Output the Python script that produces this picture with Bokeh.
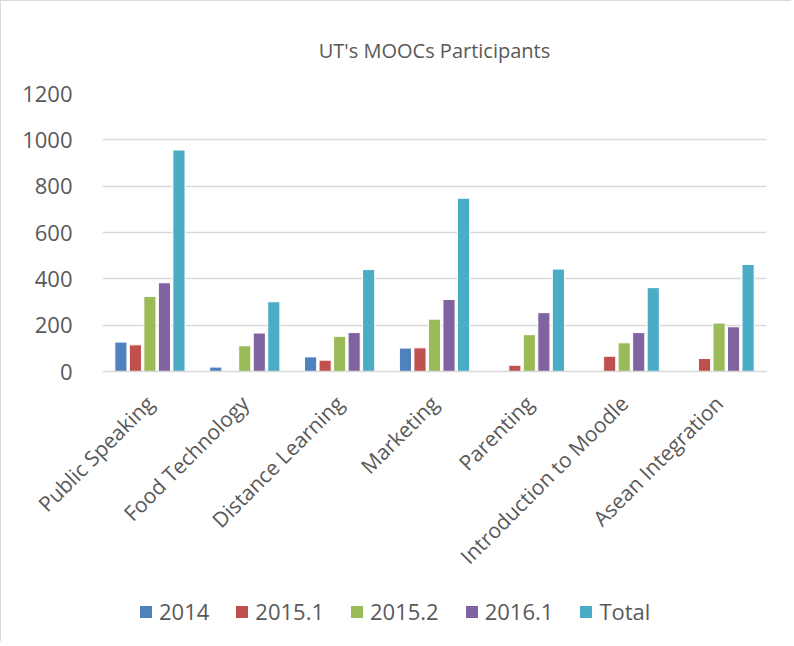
from bokeh.plotting import figure
from bokeh.models import ColumnDataSource, Legend, LegendItem, Title
from bokeh.layouts import column
from bokeh.transform import dodge
from bokeh.embed import file_html
from bokeh.resources import INLINE
from math import pi

courses = ["Public Speaking", "Food Technology", "Distance Learning", "Marketing",
           "Parenting", "Introduction to Moodle", "Asean Integration"]
series = ["2014", "2015.1", "2015.2", "2016.1", "Total"]
v2014 = [127, 19, 63, 101, 0, 0, 0]
v2015_1 = [115, 0, 49, 102, 27, 66, 56]
v2015_2 = [324, 111, 152, 226, 159, 124, 209]
v2016_1 = [383, 166, 168, 311, 254, 168, 193]
vtotal = [956, 301, 440, 748, 442, 362, 462]
colors = ["#4F81BD", "#C0504D", "#9BBB59", "#8064A2", "#4BACC6"]
y_ticks = [0, 200, 400, 600, 800, 1000, 1200]

FONT = "Open Sans"
GRAY = "#595959"

src = ColumnDataSource(dict(course=courses, s0=v2014, s1=v2015_1, s2=v2015_2,
                            s3=v2016_1, s4=vtotal))

p = figure(x_range=courses, y_range=(0, 1200), width=790, height=590,
           output_backend="svg", toolbar_location=None,
           min_border_left=101, min_border_right=25, min_border_top=92,
           min_border_bottom=220)

p.add_layout(Title(text="UT's MOOCs Participants", align="center",
                   text_font=FONT, text_font_size="20px", text_font_style="normal",
                   text_color=GRAY, standoff=60), "above")

step = 0.153
for i, (key, col) in enumerate(zip(["s0", "s1", "s2", "s3", "s4"], colors)):
    p.vbar(x=dodge("course", (i - 2) * step, range=p.x_range), top=key,
           width=0.128, source=src, fill_color=col, line_color="white",
           line_width=1)

p.outline_line_color = None
p.xgrid.grid_line_color = None
p.ygrid.grid_line_color = "#D9D9D9"
p.ygrid.grid_line_width = 1.5
p.yaxis.ticker = y_ticks
p.yaxis.axis_line_color = None
p.yaxis.major_tick_line_color = None
p.yaxis.minor_tick_line_color = None
p.yaxis.major_label_text_font = FONT
p.yaxis.major_label_text_font_size = "22px"
p.yaxis.major_label_text_color = GRAY
p.yaxis.major_label_standoff = 24

p.xaxis.axis_line_color = "#D9D9D9"
p.xaxis.axis_line_width = 1.5
p.xaxis.major_tick_line_color = None
p.xaxis.minor_tick_line_color = None
p.xaxis.major_label_orientation = pi / 4
p.xaxis.major_label_text_font = FONT
p.xaxis.major_label_text_font_size = "21px"
p.xaxis.major_label_text_color = GRAY
p.xaxis.major_label_standoff = 22
p.x_range.range_padding = 0

# legend strip below the chart (swatch renderers sit outside the visible range)
lg = figure(width=790, height=50, output_backend="svg", toolbar_location=None,
            x_axis_location=None, y_axis_location=None,
            min_border=0, x_range=(0, 1), y_range=(0, 1))
lg.outline_line_color = None
lg.grid.visible = False
swatches = [lg.vbar(x=[-10], top=[0], width=0.1, fill_color=c, line_color=None)
            for c in colors]
legend = Legend(items=[LegendItem(label=s, renderers=[r]) for s, r in zip(series, swatches)],
                orientation="horizontal", location=(36, 15),
                label_text_font=FONT, label_text_font_size="22px",
                label_text_color=GRAY, glyph_width=15, glyph_height=15,
                spacing=25, label_standoff=6, border_line_color=None,
                background_fill_alpha=0, margin=0, padding=0)
lg.add_layout(legend, "center")

layout = column(p, lg, spacing=0)
layout.styles = {"border-top": "1px solid #D9D9D9", "border-left": "1px solid #D9D9D9"}

open("out.html", "w").write(file_html(layout, INLINE))
